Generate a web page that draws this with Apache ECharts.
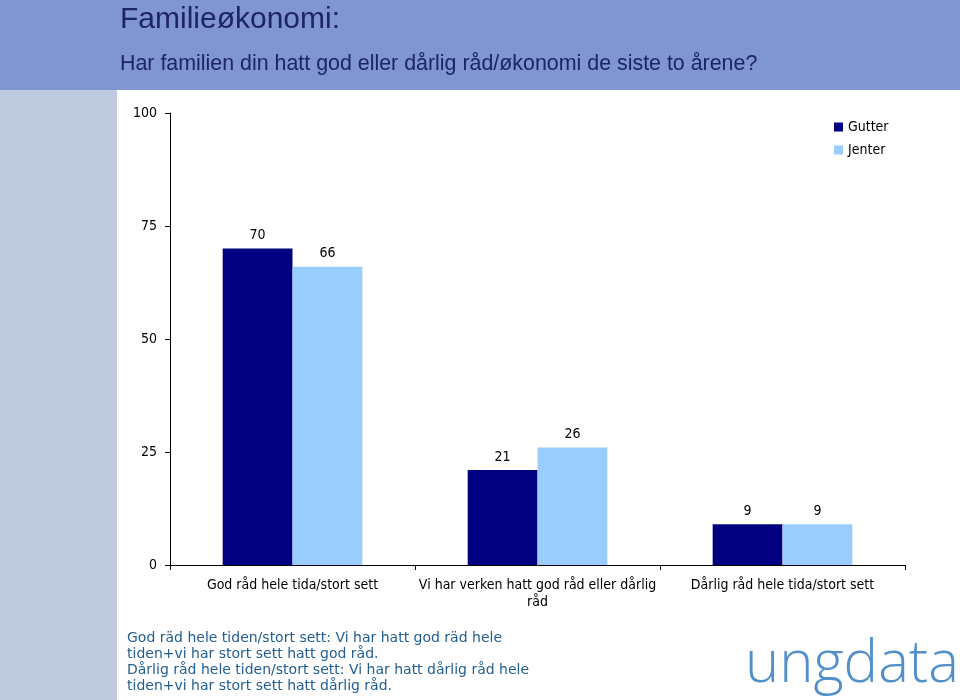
<!DOCTYPE html>
<html>
<head>
<meta charset="utf-8">
<script src="https://cdn.jsdelivr.net/npm/echarts@6/dist/echarts.min.js"></script>
<style>html,body{margin:0;padding:0;background:#fff}#c{width:960px;height:700px}</style>
</head>
<body>
<div id="c"></div>
<script>
var titleText = 'Familieøkonomi:';
var subtitleText = 'Har familien din hatt god eller dårlig råd/økonomi de siste to årene?';
var categories = ['God råd hele tida/stort sett', 'Vi har verken hatt god råd eller dårlig råd', 'Dårlig råd hele tida/stort sett'];
var seriesNames = ['Gutter', 'Jenter'];
var gutter = [70, 21, 9];
var jenter = [66, 26, 9];
var yTicks = [0, 25, 50, 75, 100];
var noteLines = [
  'God räd hele tiden/stort sett: Vi har hatt god räd hele',
  'tiden+vi har stort sett hatt god råd.',
  'Dårlig råd hele tiden/stort sett: Vi har hatt dårlig råd hele',
  'tiden+vi har stort sett hatt dårlig råd.'
];
var logoText = 'ungdata';

var chart = echarts.init(document.getElementById('c'), null, {renderer: 'canvas'});
var condensed = '"DejaVu Sans Condensed", "Liberation Sans Narrow", "Liberation Sans", sans-serif';
function wrapLabel(v) {
  if (v.length <= 34) return v;
  var i = v.lastIndexOf(' ');
  return v.slice(0, i) + '\n' + v.slice(i + 1);
}
var option = {
  backgroundColor: '#ffffff',
  animation: false,
  graphic: [
    {type: 'rect', left: 0, top: 0, shape: {width: 960, height: 90}, style: {fill: '#7F96D2'}, z: 0},
    {type: 'rect', left: 0, top: 90, shape: {width: 117, height: 610}, style: {fill: '#BFCADE'}, z: 0},
    {type: 'text', left: 120, top: 5, style: {text: titleText, fill: '#1E2566', font: '30px "Liberation Sans", Arial, sans-serif'}, z: 5},
    {type: 'text', left: 120, top: 54, style: {text: subtitleText, fill: '#1E2566', font: '21.4px "Liberation Sans", Arial, sans-serif'}, z: 5},
    {type: 'text', left: 127, top: 630, style: {text: noteLines.join('\n'), fill: '#235E92', font: '14px "DejaVu Sans", Verdana, sans-serif', lineHeight: 16}, z: 5},
    {type: 'text', left: 745, top: 636, style: {text: logoText, fill: '#5190CB', font: '300 58px "Open Sans", Lato, sans-serif'}, z: 5}
  ],
  legend: {
    orient: 'vertical',
    left: 829,
    top: 115,
    itemWidth: 9,
    itemHeight: 9,
    itemGap: 9,
    icon: 'rect',
    textStyle: {fontSize: 14, color: '#000', fontFamily: condensed},
    data: seriesNames
  },
  grid: {left: 170, right: 55, top: 113, bottom: 135},
  xAxis: {
    type: 'category',
    data: categories,
    axisLine: {lineStyle: {color: '#000', width: 1}},
    axisTick: {show: true, length: 5, lineStyle: {color: '#000'}},
    axisLabel: {
      fontSize: 14, color: '#000', fontFamily: condensed, margin: 12,
      interval: 0, lineHeight: 17, formatter: wrapLabel
    }
  },
  yAxis: {
    type: 'value',
    min: 0, max: 100, interval: 25,
    axisLine: {show: true, lineStyle: {color: '#000', width: 1}},
    axisTick: {show: true, length: 5, lineStyle: {color: '#000'}},
    splitLine: {show: false},
    axisLabel: {fontSize: 14, color: '#000', fontFamily: condensed, margin: 13,
      formatter: function (v) { return yTicks.indexOf(v) >= 0 ? String(v) : ''; }}
  },
  series: [
    {name: seriesNames[0], type: 'bar', data: gutter, barGap: '0%', barCategoryGap: '43%',
      itemStyle: {color: '#000080'},
      label: {show: true, position: 'top', distance: 6, fontSize: 14, color: '#000', fontFamily: condensed}},
    {name: seriesNames[1], type: 'bar', data: jenter, barGap: '0%', barCategoryGap: '43%',
      itemStyle: {color: '#99CCFF'},
      label: {show: true, position: 'top', distance: 6, fontSize: 14, color: '#000', fontFamily: condensed}}
  ]
};
chart.setOption(option);
</script>
</body>
</html>
